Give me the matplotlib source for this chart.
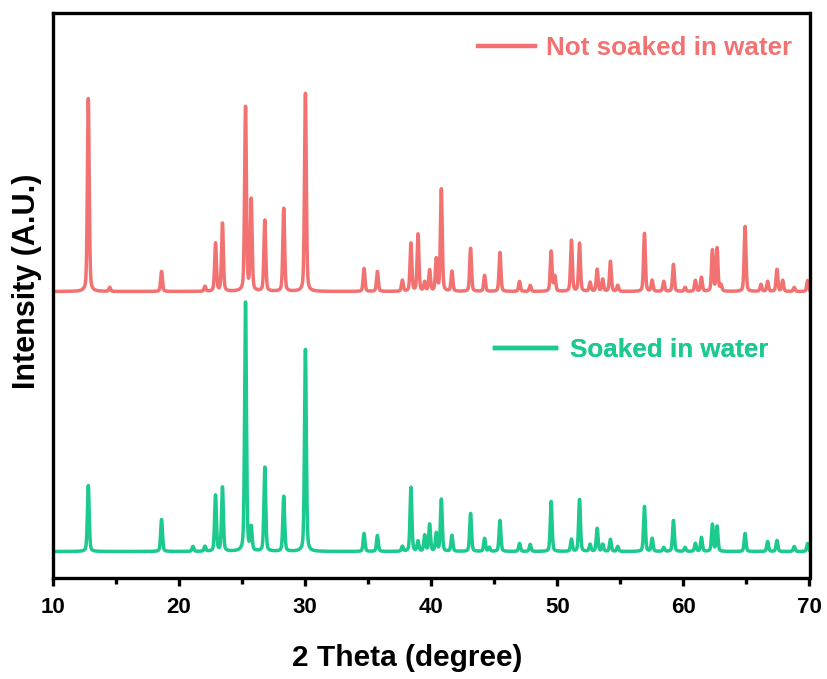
import numpy as np
import matplotlib
matplotlib.use("Agg")
import matplotlib.pyplot as plt
from matplotlib.lines import Line2D
from matplotlib.ticker import MultipleLocator

plt.rcParams['font.family'] = ['Liberation Sans', 'DejaVu Sans']
plt.rcParams['font.weight'] = 'bold'

# Peak lists (2theta, relative intensity)
not_soaked_pos = [12.80, 14.5, 18.61, 22.05, 22.89, 23.44, 25.27, 25.72, 26.80, 28.30, 30.02,
                  34.67, 35.73, 37.71, 38.39, 38.95, 39.48, 39.87, 40.40, 40.80, 41.64,
                  43.12, 44.23, 45.45, 47.00, 47.85, 49.51, 49.80, 51.12, 51.76, 52.60,
                  53.16, 53.60, 54.21, 54.79, 56.91, 57.52, 58.44, 59.21, 60.13, 60.95,
                  61.43, 62.30, 62.67, 62.98, 64.89, 66.15, 66.68, 67.42, 67.87, 68.79, 69.85]
not_soaked_int = [193, 4, 20, 5, 48, 68, 184, 91, 71, 83, 198,
                  23, 20, 11, 48, 57, 9, 21, 32, 102, 20,
                  43, 16, 39, 10, 6, 40, 15, 51, 48, 9,
                  22, 12, 30, 6, 58, 11, 10, 27, 4, 11,
                  14, 41, 43, 6, 65, 7, 10, 22, 11, 4, 11]

soaked_pos = [12.80, 18.61, 21.10, 22.05, 22.89, 23.44, 25.27, 25.72, 26.80, 28.30, 30.02,
              34.67, 35.73, 37.71, 38.39, 38.95, 39.48, 39.87, 40.40, 40.80, 41.64,
              43.12, 44.23, 44.60, 45.45, 47.00, 47.85, 49.51, 51.12, 51.76, 52.60,
              53.16, 53.60, 54.21, 54.79, 56.91, 57.52, 58.44, 59.21, 60.13, 60.95,
              61.43, 62.30, 62.67, 64.89, 66.68, 67.42, 68.79, 69.85]
soaked_int = [66, 32, 5, 5, 56, 64, 249, 23, 84, 55, 202,
              18, 16, 5, 64, 10, 16, 27, 18, 52, 16,
              38, 13, 4, 31, 8, 7, 50, 12, 52, 7,
              23, 7, 12, 5, 45, 13, 4, 31, 4, 8,
              14, 27, 25, 18, 10, 11, 5, 8]

labels = ["Not soaked in water", "Soaked in water"]
colors = ["#F27272", "#1DCA8E"]
baselines = [286, 26]

two_theta = np.arange(10, 70.0001, 0.01)


def pattern(pos, inten, fwhm=0.17, eta=0.35):
    y = np.zeros_like(two_theta)
    s = fwhm / 2.3548
    g = fwhm / 2
    for p, h in zip(pos, inten):
        d = two_theta - p
        gauss = np.exp(-0.5 * (d / s) ** 2)
        lor = 1.0 / (1.0 + (d / g) ** 2)
        y += h * ((1 - eta) * gauss + eta * lor)
    return y


fig = plt.figure(figsize=(8.27, 6.79), dpi=100)
ax = fig.add_axes([53 / 827, 1 - 577.5 / 679, 756.5 / 827, 564.5 / 679])

curves = [pattern(not_soaked_pos, not_soaked_int) + baselines[0],
          pattern(soaked_pos, soaked_int) + baselines[1]]

for c, col in zip(curves, colors):
    ax.plot(two_theta, c, color=col, lw=2.5, solid_joinstyle='round')

ax.set_xlim(10, 70)
ax.set_ylim(0, 564.5)
ax.xaxis.set_major_locator(MultipleLocator(10))
ax.xaxis.set_minor_locator(MultipleLocator(5))
ax.set_yticks([])
for sp in ax.spines.values():
    sp.set_linewidth(2.4)
ax.tick_params(axis='x', which='major', direction='out', length=6, width=2.4,
               labelsize=16, pad=8)
ax.tick_params(axis='x', which='minor', direction='out', length=4, width=2.4)
for lab in ax.get_xticklabels():
    lab.set_fontweight('bold')

ax.set_xlabel("2 Theta (degree)", fontsize=21.5, fontweight='bold')
ax.xaxis.set_label_coords(0.468, -0.117)
ax.set_ylabel("Intensity (A.U.)", fontsize=22, fontweight='bold')
ax.yaxis.set_label_coords(-0.0145, 0.524)

anchors = [(0.562, 0.938), (0.584, 0.403)]
hlens = [2.2, 2.37]
hpads = [0.4, 0.54]
for lab, col, anc, hl, hp in zip(labels, colors, anchors, hlens, hpads):
    h = Line2D([], [], color=col, lw=3.2)
    leg = ax.legend([h], [lab], loc='center left', bbox_to_anchor=anc,
                    frameon=False, borderpad=0, borderaxespad=0,
                    handlelength=hl, handletextpad=hp,
                    prop={'size': 18.7, 'weight': 'bold'})
    for t in leg.get_texts():
        t.set_color(col)
    ax.add_artist(leg)

fig.savefig("out.png", dpi=100)
